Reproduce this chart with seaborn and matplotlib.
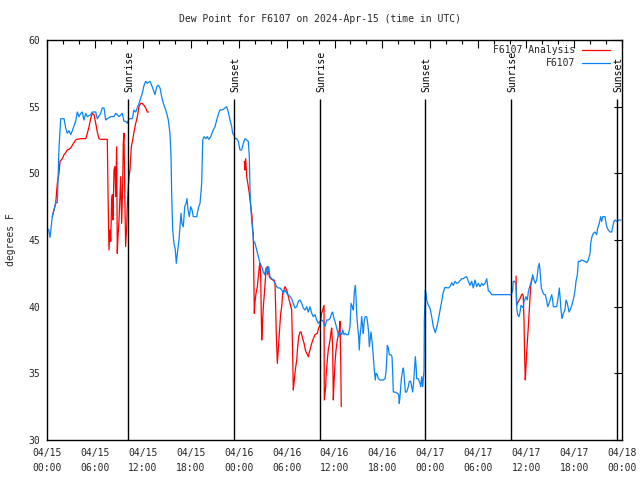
import numpy as np
import pandas as pd
import matplotlib
matplotlib.use("Agg")
import matplotlib.pyplot as plt
import seaborn as sns

# ---------------- data (hours since 2024-04-15 00:00 UTC, degrees F) -------------
obs_hours = [0.21, 0.38, 0.66, 1.09, 1.29, 1.50, 1.72, 2.13, 2.34, 2.54, 2.75, 2.97, 3.17, 3.59, 3.79,
             4.01, 4.22, 4.42, 4.63, 4.85, 5.05, 5.47, 5.67, 5.89, 6.10, 6.30, 6.72, 6.92, 7.14, 7.35,
             7.55, 7.98, 8.39, 8.60, 8.80, 9.02, 9.43, 9.64, 9.85, 10.05, 10.27, 10.68, 10.89, 11.11,
             11.52, 11.93, 12.15, 12.36, 12.56, 12.90, 13.11, 13.31, 13.52, 13.74, 13.94, 14.15, 14.36,
             14.56, 14.78, 14.99, 15.19, 15.40, 15.53, 15.61, 15.74, 15.90, 16.07, 16.19, 16.37, 16.53,
             16.65, 16.78, 16.90, 17.07, 17.24, 17.41, 17.53, 17.66, 17.82, 18.00, 18.16, 18.32, 18.75,
             18.95, 19.16, 19.37, 19.50, 19.66, 19.91, 20.07, 20.25, 20.50, 20.66, 20.82, 21.04, 21.25,
             21.50, 21.66, 21.88, 22.08, 22.29, 22.50, 22.70, 22.92, 23.13, 23.25, 23.42, 23.54, 23.75,
             23.95, 24.17, 24.38, 24.58, 24.79, 25.01, 25.21, 25.33, 25.42, 25.51, 25.63, 25.76, 25.83,
             26.05, 26.26, 26.46, 26.67, 26.89, 27.09, 27.26, 27.42, 27.59, 27.76, 27.92, 28.14, 28.34,
             28.55, 28.76, 28.96, 29.18, 29.39, 29.59, 29.80, 30.01, 30.22, 30.43, 30.64, 30.84, 31.05,
             31.27, 31.47, 31.68, 31.89, 32.09, 32.31, 32.52, 32.72, 32.93, 33.15, 33.35, 33.56, 33.77,
             33.97, 34.18, 34.39, 34.60, 34.81, 35.02, 35.22, 35.44, 35.65, 35.77, 35.94, 36.06, 36.19,
             36.35, 36.48, 36.60, 36.69, 36.90, 37.03, 37.19, 37.32, 37.53, 37.73, 37.86, 37.94, 38.07,
             38.23, 38.36, 38.48, 38.61, 38.69, 38.78, 38.90, 39.03, 39.10, 39.19, 39.32, 39.40, 39.53,
             39.60, 39.73, 39.85, 40.03, 40.16, 40.28, 40.36, 40.45, 40.57, 40.70, 40.86, 40.98, 41.11,
             41.20, 41.36, 41.49, 41.70, 42.11, 42.33, 42.45, 42.54, 42.61, 42.74, 42.86, 43.04, 43.20,
             43.29, 43.36, 43.58, 43.86, 44.04, 44.11, 44.20, 44.29, 44.37, 44.54, 44.62, 44.70, 44.87,
             45.04, 45.24, 45.37, 45.54, 45.67, 45.79, 45.92, 46.04, 46.12, 46.21, 46.29, 46.49, 46.71,
             46.80, 46.92, 47.05, 47.21, 47.25, 47.37, 47.46, 47.54, 47.75, 47.96, 48.17, 48.37, 48.62,
             48.87, 49.12, 49.42, 49.62, 49.84, 50.25, 50.47, 50.68, 50.88, 51.09, 51.30, 51.51, 51.72,
             51.93, 52.13, 52.34, 52.55, 52.76, 52.97, 53.18, 53.38, 53.59, 53.80, 54.01, 54.22, 54.43,
             54.63, 54.85, 55.06, 55.26, 55.47, 55.68, 58.14, 58.31, 58.39, 58.60, 58.73, 58.81, 58.93,
             59.10, 59.23, 59.35, 59.52, 59.64, 59.73, 59.98, 60.14, 60.27, 60.39, 60.57, 60.69, 60.82,
             60.98, 61.14, 61.32, 61.52, 61.64, 61.73, 61.90, 62.07, 62.24, 62.40, 62.58, 62.70, 62.86,
             62.99, 63.20, 63.32, 63.40, 63.82, 64.02, 64.15, 64.24, 64.36, 64.49, 64.65, 64.86, 64.99,
             65.15, 65.37, 65.58, 65.78, 65.99, 66.12, 66.24, 66.41, 66.53, 66.75, 66.96, 67.37, 67.58,
             67.78, 68.00, 68.08, 68.24, 68.41, 68.62, 68.83, 68.96, 69.16, 69.33, 69.46, 69.59, 69.87,
             70.08, 70.28, 70.50, 70.71, 70.84, 71.00, 71.13, 71.34, 71.63, 71.88]
obs_dewpt = [45.8, 45.2, 46.75, 47.8, 47.8, 51.9, 54.1, 54.1, 53.4, 53.0, 53.2, 52.9, 53.2, 53.9, 54.6,
             54.25, 54.5, 54.6, 54.0, 54.5, 54.25, 54.4, 54.6, 54.6, 54.6, 54.1, 54.5, 54.9, 54.9, 54.0,
             54.1, 54.25, 54.25, 54.5, 54.4, 54.25, 54.5, 53.9, 53.9, 53.75, 54.1, 54.1, 54.75, 54.6,
             55.25, 56.0, 56.6, 56.9, 56.75, 56.9, 56.6, 56.25, 55.9, 56.5, 56.6, 56.4, 55.75,
             55.25, 54.9, 54.5, 54.0, 53.0, 51.25, 48.5, 45.75, 44.75, 44.25, 43.25, 44.25, 45.0,
             46.0, 47.0, 46.25, 46.0, 47.5, 47.75, 48.1, 47.25, 46.75, 47.5, 47.25, 46.75, 46.75,
             47.4, 47.75, 49.25, 52.5, 52.75, 52.6, 52.75, 52.55, 52.75, 53.0, 53.25, 53.5, 54.0,
             54.5, 54.75, 54.75, 54.8, 54.9, 55.0, 54.6, 54.0, 53.5, 53.0, 52.9, 52.6, 52.6,
             52.4, 51.75, 51.75, 52.25, 52.6, 52.5, 52.4, 51.25, 48.75, 47.5, 46.5, 45.75, 45.0,
             44.75, 44.25, 43.75, 43.25, 43.0, 42.6, 42.4, 42.9, 42.4, 43.0, 42.25, 42.1, 42.0,
             41.75, 41.5, 41.4, 41.4, 41.25, 41.0, 41.25, 41.0, 40.9, 40.75, 40.6, 40.25, 39.9,
             40.0, 40.4, 40.5, 40.25, 39.9, 39.75, 40.0, 39.6, 40.0, 39.5, 39.25, 39.4, 39.0,
             38.75, 38.9, 39.0, 38.9, 38.5, 39.0, 39.0, 39.1, 39.5, 39.6, 39.1, 38.9, 38.6,
             38.25, 37.9, 37.75, 38.1, 37.9, 38.25, 37.9, 38.0, 37.9, 37.9, 38.25, 38.5, 40.25,
             40.0, 39.75, 41.1, 41.6, 40.75, 39.5, 38.5, 37.75, 36.75, 37.75, 38.5, 39.25, 38.5,
             38.0, 39.0, 39.25, 39.25, 38.75, 38.0, 37.0, 37.5, 38.1, 37.4, 36.25, 35.25, 34.5,
             35.0, 34.9, 34.6, 34.5, 34.5, 34.6, 35.1, 36.0, 37.1, 36.9, 36.4, 36.4, 36.25,
             35.0, 33.6, 33.6, 33.5, 33.4, 32.75, 33.25, 34.0, 34.6, 35.25, 35.4, 35.0, 33.6,
             33.6, 34.0, 34.4, 34.4, 34.0, 33.6, 34.4, 35.5, 36.25, 35.6, 34.6, 34.6, 34.25,
             34.0, 34.75, 34.0, 35.25, 39.0, 41.25, 41.0, 40.5, 40.1, 39.9, 39.25, 38.5, 38.05,
             38.6, 39.4, 40.4, 41.1, 41.45, 41.4, 41.5, 41.8, 41.6, 41.9, 41.75, 41.8, 41.95,
             42.1, 42.1, 42.2, 42.25, 41.9, 41.6, 41.9, 41.4, 42.0, 41.5, 41.75, 41.5, 41.75,
             41.6, 41.75, 42.1, 41.2, 41.1, 40.9, 40.9, 41.25, 41.9, 41.9, 41.6, 40.0, 39.4,
             39.25, 39.6, 40.1, 40.0, 39.9, 40.4, 40.75, 40.5, 41.1, 41.4, 41.75, 41.9, 42.4,
             42.0, 41.75, 42.0, 43.0, 43.25, 42.75, 41.4, 41.1, 40.9, 40.9, 40.4, 40.0, 40.25,
             40.5, 40.9, 40.5, 40.0, 40.0, 40.75, 41.4, 40.75, 39.75, 39.1, 39.5, 39.75, 40.5,
             40.25, 39.6, 39.85, 40.25, 40.75, 41.25, 41.9, 42.4, 43.4, 43.4, 43.5, 43.4, 43.3,
             43.5, 44.0, 44.75, 45.25, 45.5, 45.6, 45.4, 45.9, 46.25, 46.75, 46.4, 46.75, 46.75,
             46.0, 45.75, 45.6, 45.6, 46.0, 46.4, 46.5, 46.4, 46.5, 46.5]

# Analysis series, three separate runs
ana1_hours = [0.66, 1.09, 1.29, 1.50, 1.63, 1.92, 2.13, 2.34, 2.54, 2.75, 2.97, 3.17, 3.38, 3.59, 3.79,
              4.22, 4.63, 4.85, 5.05, 5.26, 5.47, 5.67, 5.89, 6.10, 6.30, 6.51, 6.72, 7.55, 7.64, 7.76,
              7.89, 7.98, 8.10, 8.18, 8.26, 8.39, 8.51, 8.60, 8.73, 8.80, 8.89, 9.02, 9.23, 9.35, 9.48,
              9.55, 9.64, 9.77, 9.85, 9.98, 10.05, 10.18, 10.27, 10.39, 10.56, 10.73, 10.89, 11.11,
              11.31, 11.52, 11.73, 11.93, 12.15, 12.36, 12.56, 12.71]
ana1_dewpt = [46.75, 47.75, 49.25, 50.0, 50.9, 51.1, 51.4, 51.55, 51.75, 51.8, 51.9, 52.1, 52.3, 52.5,
              52.55, 52.6, 52.6, 52.6, 53.0, 53.5, 54.1, 54.5, 54.4, 53.75, 53.1, 52.6, 52.55, 52.55,
              48.5, 44.25, 45.75, 44.9, 48.0, 48.4, 46.5, 50.25, 50.5, 48.25, 52.0, 44.0, 45.25, 46.5,
              49.75, 46.25, 49.25, 52.25, 53.0, 47.25, 44.5, 46.0, 47.5, 49.0, 49.75, 50.25, 52.0,
              52.5, 53.1, 53.75, 54.25, 55.0, 55.25, 55.25, 55.1, 54.9, 54.6, 54.6]
ana2_hours = [24.71, 24.79, 24.88, 25.01, 25.21, 25.33, 25.42, 25.58, 25.67, 25.76, 25.83, 25.92, 25.96,
              26.05, 26.17, 26.34, 26.46, 26.59, 26.67, 26.76, 26.83, 26.89, 26.96, 27.09, 27.22, 27.34,
              27.42, 27.59, 27.72, 27.84, 28.02, 28.26, 28.43, 28.55, 28.63, 28.71, 28.84, 28.96, 29.09,
              29.26, 29.39, 29.51, 29.68, 29.80, 30.01, 30.22, 30.43, 30.64, 30.76, 30.84, 30.97, 31.09,
              31.27, 31.39, 31.52, 31.68, 31.81, 32.02, 32.19, 32.35, 32.52, 32.72, 32.93, 33.15, 33.35,
              33.56, 33.85, 34.02, 34.18, 34.39, 34.52, 34.69, 34.72, 34.90, 34.94, 35.10, 35.22, 35.44,
              35.56, 35.65, 35.77, 35.85, 35.94, 36.06, 36.19, 36.35, 36.48, 36.60, 36.69, 36.78, 36.85]
ana2_dewpt = [50.9, 50.25, 51.1, 49.75, 49.0, 48.5, 48.0, 47.25, 46.75, 45.6, 45.5, 41.25, 39.5,
              40.4, 41.0, 41.5, 42.25, 43.0, 43.25, 42.25, 39.5, 37.5, 38.5, 40.0, 41.0, 42.0,
              42.75, 43.0, 42.75, 42.25, 42.1, 42.0, 42.0, 41.75, 40.0, 38.0, 35.75, 36.75, 38.0,
              39.5, 40.0, 41.0, 41.25, 41.5, 41.25, 40.75, 40.25, 39.75, 36.5, 33.75, 34.5, 35.25,
              36.0, 37.0, 37.75, 38.1, 38.1, 37.6, 37.25, 36.75, 36.5, 36.25, 36.75, 37.25, 37.6,
              37.9, 38.0, 38.4, 38.6, 39.5, 39.75, 40.1, 33.0, 34.0, 34.75, 36.0, 36.75, 37.5,
              38.1, 38.4, 37.0, 33.0, 34.25, 35.75, 36.75, 37.5, 37.9, 38.25, 38.9, 35.75, 32.5]
ana3_hours = [58.73, 58.81, 59.02, 59.23, 59.43, 59.56, 59.64, 59.73, 59.81, 59.89, 59.98, 60.06, 60.19,
              60.32, 60.44, 60.57, 60.69]
ana3_dewpt = [42.3, 40.1, 40.4, 40.6, 40.9, 40.95, 40.75, 39.0, 36.25, 34.5, 35.5, 36.5, 37.75,
              39.0, 40.25, 41.5, 42.1]

sun_hours = [10.17, 23.45, 34.18, 47.35, 58.12, 71.42]
sun_labels = ["Sunrise", "Sunset", "Sunrise", "Sunset", "Sunrise", "Sunset"]

tick_hours = list(range(0, 73, 6))
tick_labels = ["04/15\n00:00", "04/15\n06:00", "04/15\n12:00", "04/15\n18:00",
               "04/16\n00:00", "04/16\n06:00", "04/16\n12:00", "04/16\n18:00",
               "04/17\n00:00", "04/17\n06:00", "04/17\n12:00", "04/17\n18:00",
               "04/18\n00:00"]
y_ticks = [30, 35, 40, 45, 50, 55, 60]

# ---------------- plotting -------------
sns.set_style("white")
plt.rcParams["font.family"] = ["DejaVu Sans Mono"]
FS = 7

obs = pd.DataFrame({"hour": obs_hours, "dewpt": obs_dewpt})
ana = pd.concat([
    pd.DataFrame({"hour": ana1_hours, "dewpt": ana1_dewpt, "seg": 1}),
    pd.DataFrame({"hour": ana2_hours, "dewpt": ana2_dewpt, "seg": 2}),
    pd.DataFrame({"hour": ana3_hours, "dewpt": ana3_dewpt, "seg": 3}),
], ignore_index=True)

fig = plt.figure(figsize=(6.4, 4.8), dpi=100)
ax = fig.add_axes([47 / 640, 40 / 480, 575 / 640, 400 / 480])

RED = "#ff0000"
BLUE = "#0a84f5"
LW = 0.9

sns.lineplot(data=ana, x="hour", y="dewpt", units="seg", estimator=None,
             color=RED, linewidth=LW, ax=ax, legend=False, sort=False)
sns.lineplot(data=obs, x="hour", y="dewpt", estimator=None,
             color=BLUE, linewidth=LW, ax=ax, legend=False, sort=False)

for h, lab in zip(sun_hours, sun_labels):
    ax.vlines(h, 30, 55.6, color="black", linewidth=1.0, zorder=3)
    ax.text(h + 0.15, 56.1, lab, rotation=90, ha="center", va="bottom",
            fontsize=FS, color="black")

ax.set_xlim(0, 72)
ax.set_ylim(30, 60)
ax.set_xticks(tick_hours)
ax.set_xticklabels(tick_labels, fontsize=FS, linespacing=1.55)
ax.set_xticks(list(range(0, 73, 2)), minor=True)
ax.set_yticks(y_ticks)
ax.set_yticklabels([str(v) for v in y_ticks], fontsize=FS)
ax.tick_params(axis="both", which="both", direction="in", top=True, right=True,
               color="black", width=0.8)
ax.tick_params(axis="both", which="major", length=6)
ax.tick_params(axis="both", which="minor", length=3)
ax.tick_params(axis="x", which="major", pad=6)
ax.tick_params(axis="y", which="major", pad=5)
for sp in ax.spines.values():
    sp.set_color("black")
    sp.set_linewidth(1.0)
    sp.set_visible(True)

ax.set_xlabel("")
ax.set_ylabel("degrees F", fontsize=FS, labelpad=9)
fig.text(0.5, 1 - 19 / 480, "Dew Point for F6107 on 2024-Apr-15 (time in UTC)",
         ha="center", va="center", fontsize=FS)

# legend (gnuplot style, top right inside)
leg_items = [("F6107 Analysis", RED, 50), ("F6107", BLUE, 63)]
for label, col, ypix in leg_items:
    yf = 1 - ypix / 480
    fig.text(575 / 640, yf, label, ha="right", va="center", fontsize=FS)
    fig.add_artist(plt.Line2D([582 / 640, 610 / 640], [yf, yf], color=col, linewidth=LW))

fig.savefig("out.png", dpi=100)
